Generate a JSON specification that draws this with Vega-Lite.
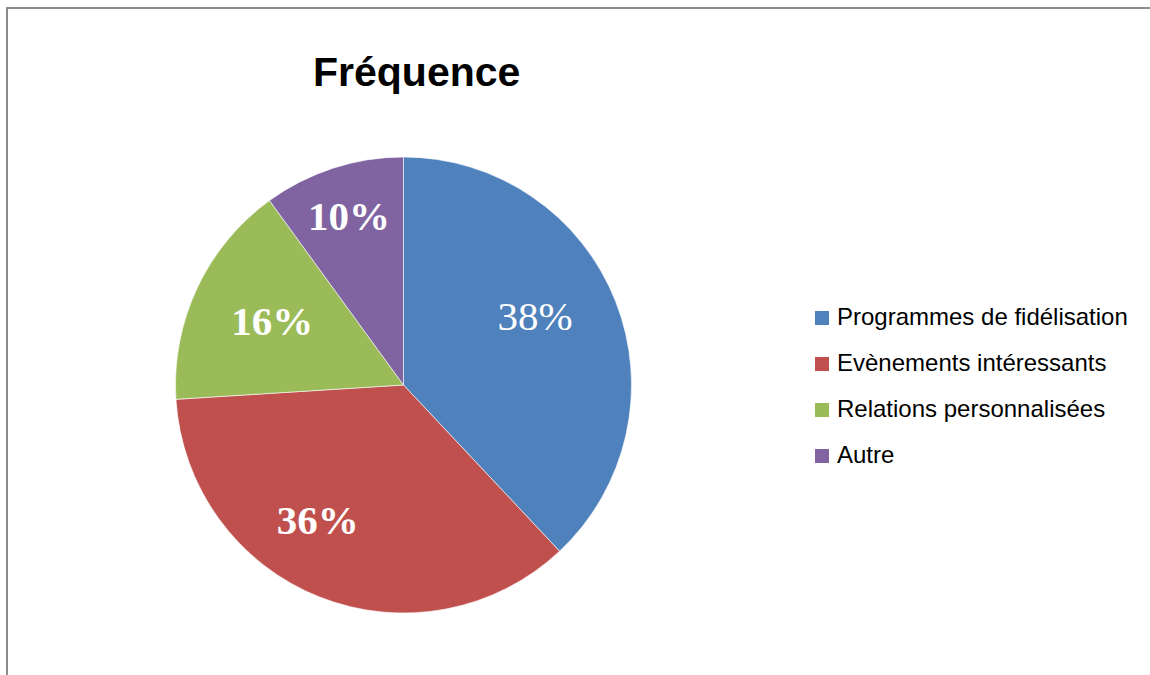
{
  "$schema": "https://vega.github.io/schema/vega-lite/v6.json",
  "autosize": "none",
  "width": 1145,
  "height": 669,
  "padding": {"left": 7, "top": 8, "right": -2, "bottom": -2},
  "background": "#ffffff",
  "view": {"stroke": "#8c8c8c", "strokeWidth": 2},
  "config": {
    "view": {"stroke": "#8c8c8c", "strokeWidth": 2}
  },
  "title": {
    "text": "Fréquence",
    "font": "Liberation Sans",
    "fontSize": 41,
    "fontWeight": "bold",
    "color": "#000000",
    "anchor": "start",
    "frame": "group",
    "align": "left",
    "baseline": "alphabetic",
    "offset": 0,
    "dx": 306,
    "dy": 119
  },
  "data": {
    "values": [
      {"categorie": "Programmes de fidélisation", "valeur": 38, "label": "38%", "ordre": 1},
      {"categorie": "Evènements intéressants", "valeur": 36, "label": "36%", "ordre": 2},
      {"categorie": "Relations  personnalisées", "valeur": 16, "label": "16%", "ordre": 3},
      {"categorie": "Autre", "valeur": 10, "label": "10%", "ordre": 4}
    ]
  },
  "encoding": {
    "theta": {"field": "valeur", "type": "quantitative", "stack": true},
    "order": {"field": "ordre", "type": "quantitative", "sort": "ascending"}
  },
  "layer": [
    {
      "mark": {"type": "arc", "x": 396.5, "y": 377, "outerRadius": 228, "stroke": "#ffffff", "strokeWidth": 0.6},
      "encoding": {
        "color": {
          "field": "categorie",
          "type": "nominal",
          "sort": ["Programmes de fidélisation", "Evènements intéressants", "Relations  personnalisées", "Autre"],
          "scale": {
            "domain": ["Programmes de fidélisation", "Evènements intéressants", "Relations  personnalisées", "Autre"],
            "range": ["#4F81BD", "#C0504D", "#9BBB59", "#8064A2"]
          },
          "legend": {
            "orient": "none",
            "legendX": 803,
            "legendY": 298,
            "title": null,
            "symbolType": "square",
            "symbolSize": 196,
            "symbolStrokeWidth": 0,
            "labelFont": "Liberation Sans",
            "labelFontSize": 24,
            "labelColor": "#000000",
            "labelOffset": 3,
            "rowPadding": 22,
            "padding": 0,
            "labelLimit": 400
          }
        }
      }
    },
    {
      "mark": {"type": "text", "x": 396.5, "y": 377, "radius": 148, "dx": -6, "dy": -13, "font": "Liberation Serif", "fontSize": 41, "fontWeight": "normal", "color": "#ffffff", "align": "center", "baseline": "middle"},
      "encoding": {
        "text": {"condition": {"test": "datum.ordre !== 1", "value": ""}, "field": "label", "type": "nominal"}
      }
    },
    {
      "mark": {"type": "text", "x": 396.5, "y": 377, "radius": 162, "dx": -26, "dy": -14, "font": "Liberation Serif", "fontSize": 41, "fontWeight": "bold", "color": "#ffffff", "align": "center", "baseline": "middle"},
      "encoding": {
        "text": {"condition": {"test": "datum.ordre !== 2", "value": ""}, "field": "label", "type": "nominal"}
      }
    },
    {
      "mark": {"type": "text", "x": 396.5, "y": 377, "radius": 145, "font": "Liberation Serif", "fontSize": 41, "fontWeight": "bold", "color": "#ffffff", "align": "center", "baseline": "middle"},
      "encoding": {
        "text": {"condition": {"test": "datum.ordre !== 3", "value": ""}, "field": "label", "type": "nominal"}
      }
    },
    {
      "mark": {"type": "text", "x": 396.5, "y": 377, "radius": 176, "font": "Liberation Serif", "fontSize": 41, "fontWeight": "bold", "color": "#ffffff", "align": "center", "baseline": "middle"},
      "encoding": {
        "text": {"condition": {"test": "datum.ordre !== 4", "value": ""}, "field": "label", "type": "nominal"}
      }
    }
  ]
}
